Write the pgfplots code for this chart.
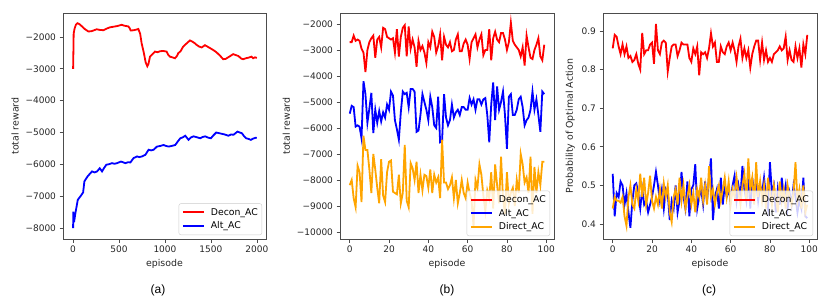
\documentclass[border=0pt]{standalone}
\usepackage{pgfplots}
\pgfplotsset{compat=1.18}
\usepackage{pgfplotstable}
\usepackage{fontspec}
\setmainfont{DejaVu Sans}
\newfontfamily\capfont{Liberation Sans}

\definecolor{mplorange}{HTML}{FFA500}

\pgfplotstableread{
ep dec alt dir
0 -2700 -5450 -8200
1 -2700 -5150 -8000
2 -2450 -5200 -8700
3 -2650 -5950 -9050
4 -2600 -5900 -7450
5 -2650 -5950 -7700
6 -2950 -6400 -8850
7 -3100 -4200 -6300
8 -3850 -4700 -6850
9 -3000 -5800 -6850
10 -2700 -5250 -7600
11 -2550 -4650 -8500
12 -2450 -6200 -7000
13 -3300 -5300 -7600
14 -2600 -5800 -8300
15 -2500 -5350 -8900
16 -2900 -5750 -7200
17 -2150 -5400 -8600
18 -2200 -5600 -8850
19 -2500 -5100 -7700
20 -2550 -5300 -7300
21 -2600 -4600 -7250
22 -2550 -4750 -8450
23 -3100 -5700 -8500
24 -2200 -6050 -8550
25 -3250 -6450 -7800
26 -2500 -5400 -8900
27 -2150 -4600 -8500
28 -2050 -4700 -6650
29 -3250 -4650 -8800
30 -2100 -5200 -9050
31 -2950 -4500 -7350
32 -2600 -4500 -7550
33 -2900 -4600 -8000
34 -3650 -6150 -7300
35 -2650 -6100 -8500
36 -3000 -5500 -7800
37 -2850 -4700 -8400
38 -3100 -5000 -7800
39 -3500 -5300 -7850
40 -2700 -5700 -8300
41 -2900 -4800 -7600
42 -2300 -5200 -8500
43 -2500 -5900 -7800
44 -3100 -6000 -8100
45 -2850 -4800 -7900
46 -2400 -6550 -8700
47 -3400 -6500 -6450
48 -2500 -4700 -8100
49 -2800 -5600 -8100
50 -2900 -5900 -8350
51 -2700 -5700 -8200
52 -3050 -5100 -7900
53 -3000 -5600 -8700
54 -2600 -5400 -8000
55 -2400 -5300 -8900
56 -3050 -5500 -8500
57 -3050 -5200 -8000
58 -2750 -5200 -8500
59 -2600 -5300 -8700
60 -2800 -5300 -8100
61 -3350 -4850 -8500
62 -2700 -5100 -8800
63 -2550 -4900 -9800
64 -2400 -5300 -8000
65 -2900 -4900 -8300
66 -2600 -4900 -7400
67 -2400 -5100 -7800
68 -3200 -4900 -8600
69 -3000 -4850 -9200
70 -3000 -5500 -8400
71 -2200 -6550 -8700
72 -3400 -5100 -7700
73 -2550 -4250 -9100
74 -2300 -5700 -7400
75 -2600 -4400 -8200
76 -2700 -5300 -8900
77 -2350 -5000 -7100
78 -2350 -4600 -8700
79 -2600 -5500 -9300
80 -3000 -6800 -7700
81 -2700 -4800 -8900
82 -1950 -4700 -8500
83 -2650 -5500 -8300
84 -2800 -5500 -9000
85 -2900 -5300 -8000
86 -3000 -4900 -8500
87 -3250 -4800 -7000
88 -2900 -5200 -7400
89 -3600 -5900 -8100
90 -2450 -5700 -7900
91 -2900 -5600 -8500
92 -3300 -5300 -7100
93 -3350 -4600 -9300
94 -3000 -5300 -7500
95 -2800 -4900 -8500
96 -2550 -5500 -7700
97 -3250 -6150 -8200
98 -3400 -4600 -7300
99 -2800 -4700 -7300
}\tableb

\pgfplotstableread{
ep dec alt dir
0 0.855 0.53 0.44
1 0.89 0.42 0.47
2 0.885 0.48 0.46
3 0.86 0.47 0.46
4 0.84 0.51 0.455
5 0.865 0.50 0.47
6 0.84 0.45 0.42
7 0.86 0.48 0.395
8 0.83 0.43 0.47
9 0.835 0.39 0.50
10 0.82 0.46 0.45
11 0.825 0.50 0.44
12 0.84 0.505 0.49
13 0.815 0.48 0.46
14 0.80 0.44 0.53
15 0.895 0.49 0.47
16 0.84 0.45 0.52
17 0.85 0.46 0.45
18 0.85 0.43 0.48
19 0.865 0.45 0.525
20 0.87 0.47 0.46
21 0.815 0.50 0.44
22 0.918 0.535 0.47
23 0.85 0.50 0.45
24 0.84 0.46 0.49
25 0.87 0.49 0.44
26 0.875 0.44 0.505
27 0.87 0.49 0.47
28 0.795 0.48 0.50
29 0.83 0.41 0.43
30 0.86 0.46 0.405
31 0.865 0.44 0.47
32 0.865 0.50 0.49
33 0.835 0.43 0.45
34 0.85 0.46 0.52
35 0.87 0.535 0.46
36 0.865 0.47 0.50
37 0.865 0.44 0.44
38 0.865 0.51 0.47
39 0.83 0.42 0.50
40 0.82 0.49 0.45
41 0.855 0.50 0.48
42 0.84 0.555 0.43
43 0.86 0.44 0.49
44 0.785 0.47 0.47
45 0.845 0.49 0.52
46 0.84 0.45 0.46
47 0.845 0.51 0.50
48 0.83 0.46 0.45
49 0.855 0.52 0.55
50 0.894 0.57 0.47
51 0.86 0.41 0.49
52 0.87 0.47 0.45
53 0.82 0.49 0.48
54 0.82 0.44 0.50
55 0.86 0.52 0.46
56 0.845 0.45 0.49
57 0.84 0.50 0.52
58 0.86 0.47 0.47
59 0.87 0.49 0.51
60 0.85 0.46 0.45
61 0.87 0.50 0.49
62 0.85 0.525 0.47
63 0.82 0.46 0.52
64 0.86 0.50 0.48
65 0.88 0.47 0.45
66 0.83 0.55 0.50
67 0.855 0.49 0.53
68 0.83 0.46 0.46
69 0.85 0.53 0.57
70 0.805 0.44 0.49
71 0.84 0.52 0.52
72 0.86 0.48 0.45
73 0.875 0.51 0.56
74 0.875 0.46 0.47
75 0.825 0.50 0.51
76 0.87 0.48 0.46
77 0.825 0.52 0.50
78 0.85 0.47 0.44
79 0.82 0.44 0.52
80 0.83 0.56 0.48
81 0.82 0.48 0.45
82 0.84 0.50 0.50
83 0.845 0.43 0.47
84 0.85 0.49 0.43
85 0.86 0.45 0.51
86 0.85 0.52 0.46
87 0.855 0.47 0.49
88 0.885 0.50 0.44
89 0.825 0.44 0.50
90 0.85 0.48 0.47
91 0.825 0.45 0.45
92 0.82 0.50 0.48
93 0.86 0.47 0.56
94 0.83 0.43 0.46
95 0.855 0.46 0.49
96 0.805 0.44 0.44
97 0.865 0.52 0.50
98 0.84 0.42 0.43
99 0.89 0.415 0.45
}\tablec

\pgfplotsset{
  myaxis/.style={
    scale only axis,
    anchor=south west,
    font=\fontsize{9}{10}\selectfont,
    axis line style={black!70, line width=0.6pt},
    every tick/.style={black!70, line width=0.6pt},
    tick align=outside,
    major tick length=3.5pt,
    xtick pos=left, ytick pos=left,
    scaled x ticks=false, scaled y ticks=false,
    tick label style={black!85, font=\fontsize{9}{10}\selectfont},
    label style={black!85, font=\fontsize{9.4}{11}\selectfont},
    /pgf/number format/assume math mode=true,
    legend cell align=left,
    legend image code/.code={\draw[#1] (0pt,0pt) -- (21pt,0pt);},
    legend style={
      font=\fontsize{9.3}{11}\selectfont,
      draw=black!20, rounded corners=2pt,
      fill=white, fill opacity=0.8, text opacity=1,
      at={(1,0)}, anchor=south east, xshift=-4pt, yshift=4pt,
      inner xsep=3pt, inner ysep=3.5pt, row sep=3.2pt, column sep=5pt,
      nodes={inner sep=1pt},
    },
  },
  dec/.style={red, line width=1.8pt},
  alt/.style={blue, line width=1.8pt},
  dir/.style={mplorange, line width=1.8pt},
}

\begin{document}
\begin{tikzpicture}
\useasboundingbox (0,0) rectangle (830pt,301pt);

% ---------- (a) ----------
\begin{axis}[myaxis,
  at={(63pt,62pt)}, width=203pt, height=226pt,
  xmin=-110, xmax=2100, ymin=-8340, ymax=-1250,
  xtick={0,500,1000,1500,2000},
  xticklabels={0,500,1000,1500,2000},
  ytick={-8000,-7000,-6000,-5000,-4000,-3000,-2000},
  yticklabels={−8000,−7000,−6000,−5000,−4000,−3000,−2000},
  xlabel={episode}, ylabel={total reward},
]
\addlegendimage{red, line width=2pt}
\addlegendentry{Decon\_AC}
\addlegendimage{blue, line width=2pt}
\addlegendentry{Alt\_AC}
\addplot[dec, forget plot] coordinates {
(0,-3000)(3,-2500)(6,-1900)(15,-1750)(30,-1620)(47,-1570)(70,-1600)(100,-1680)
(130,-1760)(167,-1830)(200,-1820)(230,-1790)(257,-1760)(290,-1780)(330,-1790)
(365,-1740)(400,-1700)(440,-1680)(480,-1660)(528,-1620)(560,-1650)(600,-1670)
(615,-1720)(627,-1800)(660,-1790)(690,-1770)(710,-1750)(730,-1900)(746,-2200)
(770,-2500)(790,-2800)(808,-2920)(820,-2850)(837,-2620)(860,-2550)(891,-2460)
(920,-2480)(946,-2450)(980,-2440)(1018,-2460)(1035,-2560)(1054,-2620)(1080,-2640)
(1109,-2670)(1130,-2600)(1145,-2510)(1170,-2450)(1195,-2320)(1218,-2250)
(1245,-2180)(1272,-2110)(1300,-2150)(1325,-2200)(1345,-2250)(1370,-2300)
(1399,-2330)(1420,-2290)(1435,-2260)(1460,-2300)(1490,-2350)(1525,-2410)
(1560,-2480)(1600,-2590)(1634,-2700)(1660,-2690)(1700,-2620)(1743,-2540)
(1770,-2570)(1800,-2600)(1830,-2680)(1852,-2700)(1880,-2670)(1910,-2650)
(1942,-2620)(1960,-2670)(1980,-2640)(2000,-2660)
};
\addplot[alt, forget plot] coordinates {
(0,-8000)(2,-7480)(6,-7700)(14,-7740)(25,-7530)(51,-7110)(80,-7000)(109,-6880)
(123,-6530)(159,-6370)(206,-6220)(235,-6250)(261,-6220)(290,-6120)(315,-6220)
(340,-6100)(362,-6010)(395,-5990)(424,-5960)(450,-5980)(478,-5960)(522,-5910)
(569,-5960)(600,-5930)(623,-5940)(659,-5800)(696,-5750)(720,-5770)(750,-5750)
(786,-5700)(822,-5540)(850,-5560)(877,-5540)(913,-5440)(950,-5420)(985,-5390)
(1010,-5420)(1040,-5440)(1075,-5420)(1112,-5390)(1140,-5280)(1167,-5180)
(1195,-5150)(1221,-5100)(1257,-5230)(1285,-5150)(1312,-5120)(1350,-5150)
(1384,-5180)(1410,-5140)(1438,-5120)(1470,-5160)(1500,-5180)(1530,-5080)
(1558,-5000)(1590,-5020)(1619,-5040)(1650,-5060)(1692,-5100)(1720,-5060)
(1746,-5070)(1790,-4970)(1815,-5000)(1837,-5020)(1860,-5110)(1884,-5180)
(1910,-5200)(1935,-5230)(1960,-5190)(1980,-5170)(2000,-5160)
};
\end{axis}
\node[font=\capfont\fontsize{12}{14}\selectfont] at (158pt,11pt) {(a)};

% ---------- (b) ----------
\begin{axis}[myaxis,
  at={(340pt,62pt)}, width=214pt, height=226pt,
  xmin=-4.95, xmax=103.95, ymin=-10270, ymax=-1580,
  xtick={0,20,40,60,80,100},
  xticklabels={0,20,40,60,80,100},
  ytick={-10000,-9000,-8000,-7000,-6000,-5000,-4000,-3000,-2000},
  yticklabels={−10000,−9000,−8000,−7000,−6000,−5000,−4000,−3000,−2000},
  xlabel={episode}, ylabel={total reward},
  legend style={yshift=-1pt},
]
\addlegendimage{red, line width=2pt}
\addlegendentry{Decon\_AC}
\addlegendimage{blue, line width=2pt}
\addlegendentry{Alt\_AC}
\addlegendimage{mplorange, line width=2pt}
\addlegendentry{Direct\_AC}
\addplot[dec, forget plot] table[x=ep,y=dec] {\tableb};
\addplot[alt, forget plot] table[x=ep,y=alt] {\tableb};
\addplot[dir, forget plot] table[x=ep,y=dir] {\tableb};
\end{axis}
\node[font=\capfont\fontsize{12}{14}\selectfont] at (447pt,11pt) {(b)};

% ---------- (c) ----------
\begin{axis}[myaxis,
  at={(603pt,62pt)}, width=214pt, height=226pt,
  xmin=-4.95, xmax=103.95, ymin=0.361, ymax=0.9466,
  xtick={0,20,40,60,80,100},
  xticklabels={0,20,40,60,80,100},
  ytick={0.4,0.5,0.6,0.7,0.8,0.9},
  yticklabels={0.4,0.5,0.6,0.7,0.8,0.9},
  xlabel={episode}, ylabel={Probability of Optimal Action},
  legend style={yshift=-1pt},
]
\addlegendimage{red, line width=2pt}
\addlegendentry{Decon\_AC}
\addlegendimage{blue, line width=2pt}
\addlegendentry{Alt\_AC}
\addlegendimage{mplorange, line width=2pt}
\addlegendentry{Direct\_AC}
\addplot[dec, forget plot] table[x=ep,y=dec] {\tablec};
\addplot[alt, forget plot] table[x=ep,y=alt] {\tablec};
\addplot[dir, forget plot] table[x=ep,y=dir] {\tablec};
\end{axis}
\node[font=\capfont\fontsize{12}{14}\selectfont] at (709pt,11pt) {(c)};
\end{tikzpicture}
\end{document}
